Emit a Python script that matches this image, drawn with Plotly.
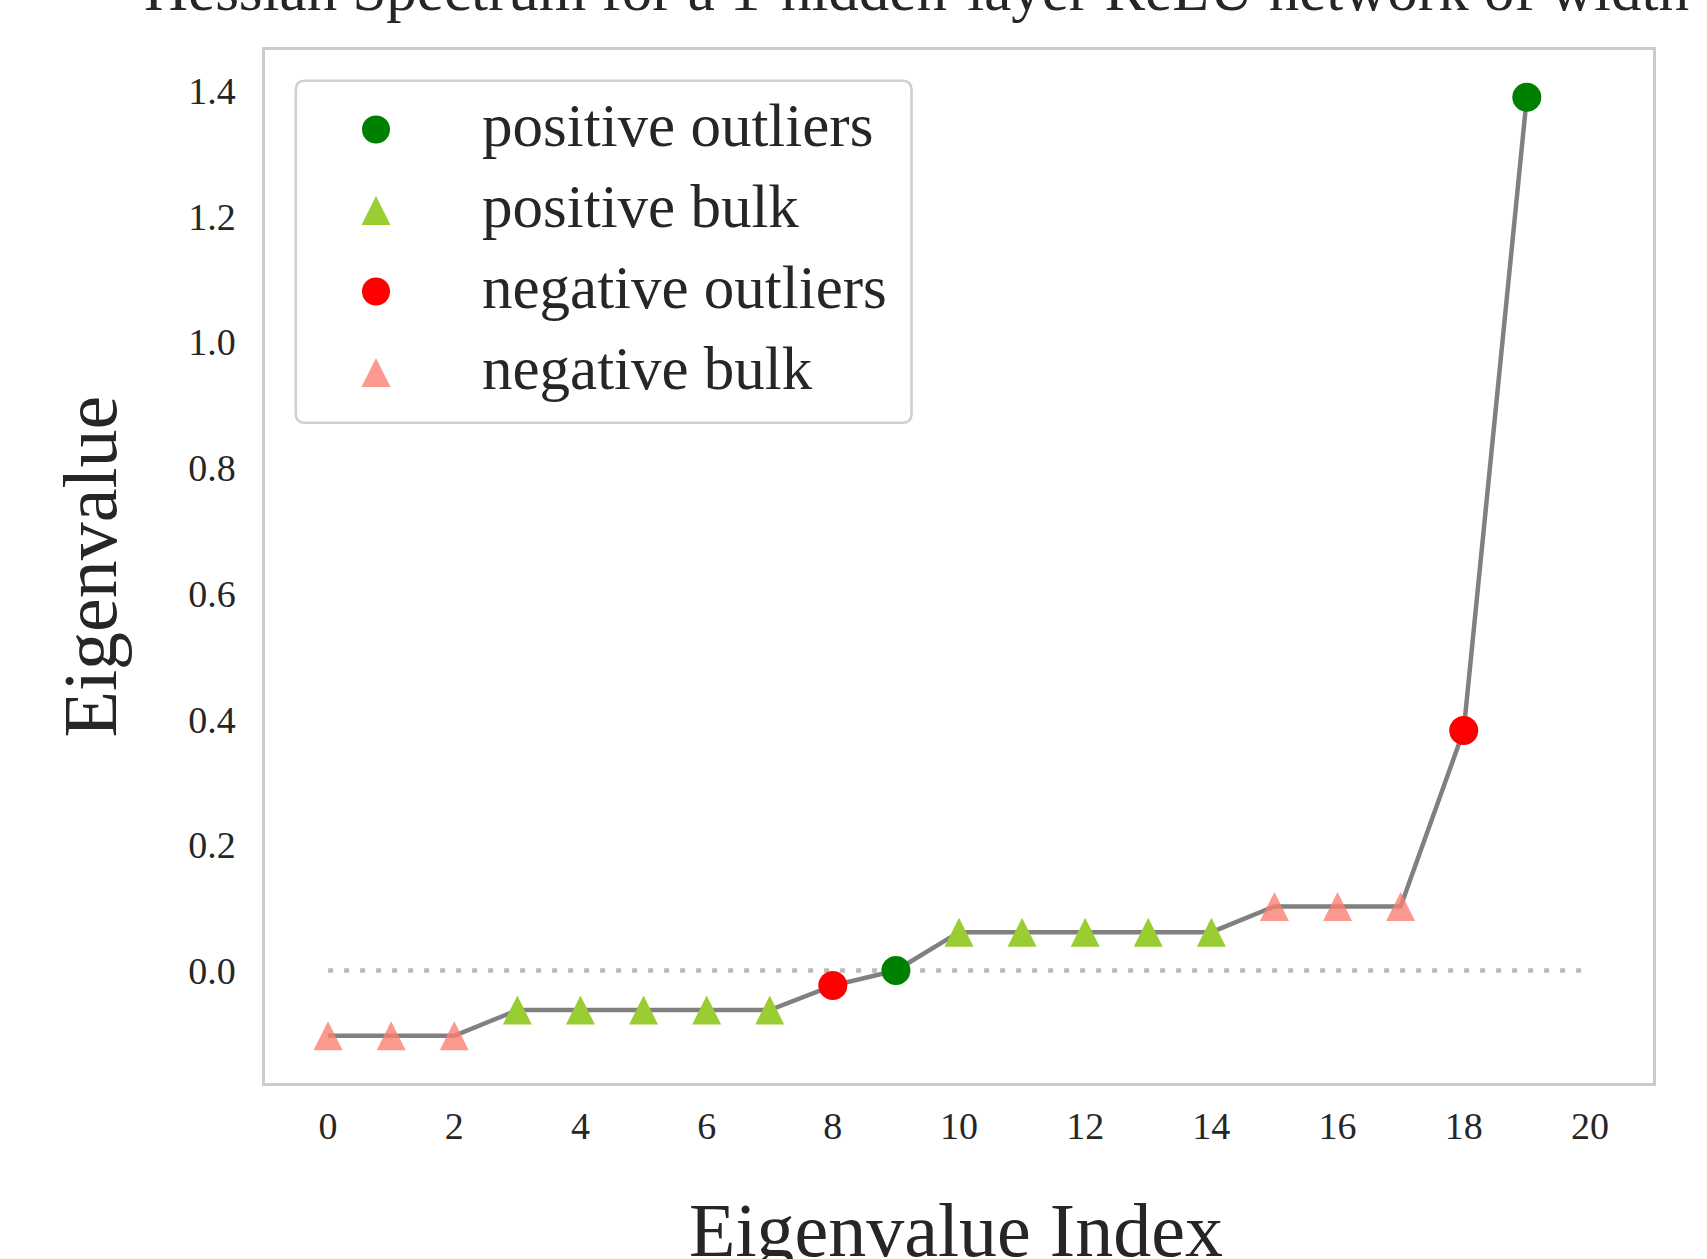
import plotly.graph_objects as go

# ---- data -------------------------------------------------------------
eigen_index = list(range(20))
eigenvalues = [-0.104, -0.104, -0.104,
               -0.063, -0.063, -0.063, -0.063, -0.063,
               -0.024, 0.000,
               0.061, 0.061, 0.061, 0.061, 0.061,
               0.102, 0.102, 0.102,
               0.382, 1.390]
eigen_kind = (["negative bulk"] * 3 + ["positive bulk"] * 5
              + ["negative outliers", "positive outliers"]
              + ["positive bulk"] * 5 + ["negative bulk"] * 3
              + ["negative outliers", "positive outliers"])
legend_order = ["positive outliers", "positive bulk",
                "negative outliers", "negative bulk"]
x_ticks = list(range(0, 21, 2))
y_ticks = [0.0, 0.2, 0.4, 0.6, 0.8, 1.0, 1.2, 1.4]
title_text = "Hessian Spectrum for a 1-hidden-layer ReLU network of width"
x_label = "Eigenvalue Index"
y_label = "Eigenvalue"

# ---- styling ----------------------------------------------------------
KIND_STYLE = {
    "positive outliers": dict(color="#008000", shape="circle", opacity=1.0),
    "positive bulk": dict(color="#9ACD32", shape="triangle", opacity=1.0),
    "negative outliers": dict(color="#FF0000", shape="circle", opacity=1.0),
    "negative bulk": dict(color="#FA8072", shape="triangle", opacity=0.8),
}
FONT = "Liberation Serif"
TEXT_COLOR = "#262626"
MARKER_PX = 29
TRI_PATH = "M0,14.5 L-14.5,-14.5 L14.5,-14.5 Z"  # upward triangle, pixel units (y up)

W, H = 1707, 1259
M = dict(l=265, r=54, t=50, b=176)
plot_w = W - M["l"] - M["r"]
plot_h = H - M["t"] - M["b"]


def paper_x(px):
    return (px - M["l"]) / plot_w


def paper_y(py):
    return (H - M["b"] - py) / plot_h


fig = go.Figure()

# zero reference line across the index range
fig.add_trace(go.Scatter(
    x=[eigen_index[0], len(eigen_index)], y=[0, 0], mode="lines",
    line=dict(color="#bbbbbb", width=4.5, dash="5px,11px"),
    hoverinfo="skip", showlegend=False))

# spectrum polyline
fig.add_trace(go.Scatter(
    x=eigen_index, y=eigenvalues, mode="lines",
    line=dict(color="#808080", width=4.5),
    hoverinfo="skip", showlegend=False))

shapes = []

# outlier circles as markers, bulk triangles as pixel-sized shapes
for kind in legend_order:
    st = KIND_STYLE[kind]
    xs = [i for i, k in zip(eigen_index, eigen_kind) if k == kind]
    ys = [v for v, k in zip(eigenvalues, eigen_kind) if k == kind]
    if st["shape"] == "circle":
        fig.add_trace(go.Scatter(
            x=xs, y=ys, mode="markers", name=kind,
            marker=dict(symbol="circle", size=MARKER_PX, color=st["color"],
                        opacity=st["opacity"], line=dict(width=0)),
            showlegend=False))
    else:
        for xv, yv in zip(xs, ys):
            shapes.append(dict(
                type="path", xref="x", yref="y",
                xsizemode="pixel", ysizemode="pixel",
                xanchor=xv, yanchor=yv, path=TRI_PATH,
                fillcolor=st["color"], opacity=st["opacity"],
                line=dict(width=0), layer="above"))

# ---- legend box drawn by hand ----------------------------------------
box_l, box_t, box_r, box_b = 295.8, 80.7, 911.5, 422.7
bw, bh, rad = box_r - box_l, box_b - box_t, 9
box_path = (f"M{rad},0 H{bw - rad} Q{bw},0 {bw},{-rad} V{-(bh - rad)} "
            f"Q{bw},{-bh} {bw - rad},{-bh} H{rad} Q0,{-bh} 0,{-(bh - rad)} "
            f"V{-rad} Q0,0 {rad},0 Z")
shapes.append(dict(
    type="path", xref="paper", yref="paper",
    xsizemode="pixel", ysizemode="pixel",
    xanchor=paper_x(box_l), yanchor=paper_y(box_t), path=box_path,
    fillcolor="white", line=dict(color="#d0d0d0", width=2.6), layer="above"))

annotations = []
row_y0, row_step = 129.5, 81.0
sym_x, text_x = 376, 480
for r, kind in enumerate(legend_order):
    st = KIND_STYLE[kind]
    cy = row_y0 + r * row_step
    common = dict(xref="paper", yref="paper", xsizemode="pixel",
                  ysizemode="pixel", xanchor=paper_x(sym_x),
                  yanchor=paper_y(cy), fillcolor=st["color"],
                  opacity=st["opacity"], line=dict(width=0), layer="above")
    if st["shape"] == "circle":
        shapes.append(dict(type="circle", x0=-14, x1=14, y0=-14, y1=14,
                           **common))
    else:
        shapes.append(dict(type="path", path=TRI_PATH, **common))
    annotations.append(dict(
        text=kind, xref="paper", yref="paper", x=paper_x(text_x),
        y=paper_y(cy - 4), xanchor="left", yanchor="middle",
        showarrow=False, font=dict(family=FONT, size=61, color=TEXT_COLOR)))

# ---- titles -----------------------------------------------------------
annotations.append(dict(
    text=title_text, xref="paper", yref="paper", x=paper_x(141.5),
    y=paper_y(-10.6), xanchor="left", yanchor="middle", showarrow=False,
    font=dict(family=FONT, size=61, color=TEXT_COLOR)))
annotations.append(dict(
    text=x_label, xref="paper", yref="paper", x=paper_x(956),
    y=paper_y(1230), xanchor="center", yanchor="middle", showarrow=False,
    font=dict(family=FONT, size=76, color=TEXT_COLOR)))
annotations.append(dict(
    text=y_label, xref="paper", yref="paper", x=paper_x(89),
    y=0.5, xanchor="center", yanchor="middle", textangle=-90,
    showarrow=False, font=dict(family=FONT, size=76, color=TEXT_COLOR)))

axis_common = dict(showgrid=False, zeroline=False, showline=True,
                   linecolor="#cccccc", linewidth=2.5, mirror=True,
                   ticks="", tickfont=dict(family=FONT, size=38,
                                           color=TEXT_COLOR))

fig.update_layout(
    width=W, height=H, margin=M, autosize=False,
    paper_bgcolor="white", plot_bgcolor="white",
    shapes=shapes, annotations=annotations, showlegend=False,
    xaxis=dict(range=[-1, 21], tickvals=x_ticks, ticklabelstandoff=8,
               **axis_common),
    yaxis=dict(range=[-0.179, 1.465], tickvals=y_ticks, tickformat=".1f",
               ticklabelstandoff=19, **axis_common),
)

fig.write_html("out.html")
